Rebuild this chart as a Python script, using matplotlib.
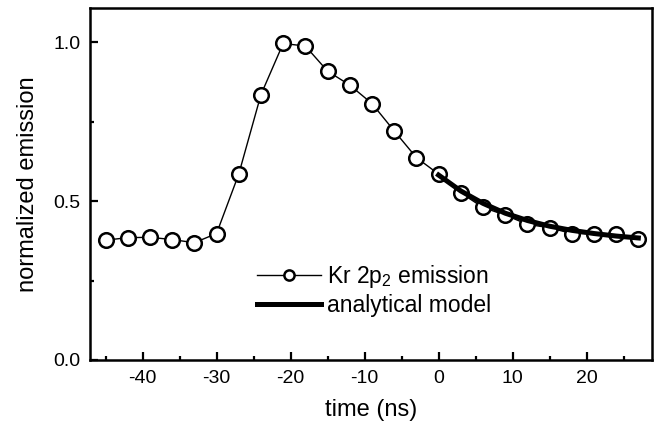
#!/usr/bin/env python3
"""Kr 2p2 emission vs time with analytical model fit."""
import matplotlib
matplotlib.use("Agg")
import matplotlib.pyplot as plt
from matplotlib.ticker import MultipleLocator

plt.rcParams["font.family"] = ["Liberation Sans", "DejaVu Sans"]
plt.rcParams["axes.unicode_minus"] = False

# measured emission (normalized)
t_ns = [-45, -42, -39, -36, -33, -30, -27, -24, -21, -18, -15, -12, -9,
        -6, -3, 0, 3, 6, 9, 12, 15, 18, 21, 24, 27]
emission = [0.377, 0.385, 0.386, 0.379, 0.369, 0.398, 0.585, 0.835, 0.996,
            0.988, 0.909, 0.865, 0.807, 0.721, 0.637, 0.585, 0.526, 0.480,
            0.456, 0.427, 0.416, 0.398, 0.398, 0.395, 0.380]

# analytical model (decay after t = 0)
model_t = [0, 3, 6, 9, 12, 15, 18, 21, 24, 27]
model_y = [0.582, 0.532, 0.493, 0.462, 0.439, 0.421, 0.408, 0.398, 0.390, 0.384]

fig = plt.figure(figsize=(6.59, 4.32), dpi=100)
ax = fig.add_axes([0.1366, 0.1667, 0.8534, 0.8143])

ax.plot(t_ns, emission, color="black", lw=1.0, marker="o", ms=10.5,
        mfc="white", mec="black", mew=1.8, label="Kr 2p$_\\mathregular{2}$ emission")
ax.plot(model_t, model_y, color="black", lw=3.6, label="analytical model")

ax.set_xlim(-47.1, 28.9)
ax.set_ylim(0, 1.107)
ax.xaxis.set_major_locator(MultipleLocator(10))
ax.xaxis.set_minor_locator(MultipleLocator(5))
ax.yaxis.set_major_locator(MultipleLocator(0.5))
ax.yaxis.set_minor_locator(MultipleLocator(0.25))
ax.tick_params(which="both", direction="in", width=1.6, labelsize=14)
ax.tick_params(which="major", length=6, pad=7)
ax.tick_params(which="minor", length=3)
for s in ax.spines.values():
    s.set_linewidth(1.8)

ax.set_xlabel("time (ns)", fontsize=17, labelpad=9)
ax.set_ylabel("normalized emission", fontsize=17, labelpad=10)

ax.legend(loc="upper left", bbox_to_anchor=(0.26, 0.333), frameon=False,
          fontsize=16.5, handlelength=2.8, handletextpad=0.25, labelspacing=0.15,
          markerscale=0.7)

fig.savefig("out.png", dpi=100)
